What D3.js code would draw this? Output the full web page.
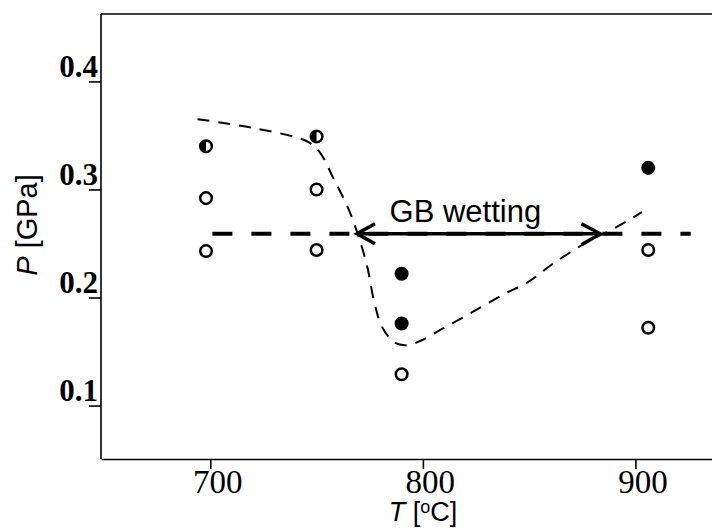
<!DOCTYPE html>
<html>
<head>
    <meta charset="utf-8">
    <title>GB wetting</title>
    <style>
        body { margin: 0; background: #fff; }
        .tick text { font-family: "Liberation Serif", serif; fill: #000; }
    </style>
</head>
<body>
    <svg width="712" height="528"></svg>
    <script src="https://d3js.org/d3.v7.min.js"></script>
    <script>
        // data
        const openT = [698, 698, 750, 750, 790, 906, 906];
        const openP = [0.292, 0.243, 0.300, 0.244, 0.129, 0.244, 0.172];
        const filledT = [790, 790, 906];
        const filledP = [0.222, 0.176, 0.320];
        const halfT = [698, 750];
        const halfP = [0.340, 0.349];
        const curveT = [694, 720, 746, 752, 758, 765, 770, 774, 777, 781, 787, 793, 799, 809, 822, 838, 850, 861, 877, 890, 903];
        const curveP = [0.365, 0.357, 0.344, 0.333, 0.31, 0.282, 0.255, 0.227, 0.197, 0.172, 0.158, 0.156, 0.16, 0.171, 0.185, 0.203, 0.215, 0.231, 0.251, 0.264, 0.279];
        const levelT = [701, 926];
        const levelP = 0.259;
        const arrowT = [769, 883.5];
        const xTicks = [700, 800, 900];
        const yTicks = [0.1, 0.2, 0.3, 0.4];

        const svg = d3.select('svg');
        const width = +svg.attr('width');
        const height = +svg.attr('height');
        const margin = { top: 14, right: 0, bottom: 69, left: 101 };
        const innerWidth = width - margin.left - margin.right;
        const innerHeight = height - margin.top - margin.bottom;

        const xScale = d3.scaleLinear().domain([648.6, 936]).range([0, innerWidth]);
        const yScale = d3.scaleLinear().domain([0.0487, 0.4624]).range([innerHeight + 2, 0]);

        const g = svg.append('g').attr('transform', `translate(${margin.left},${margin.top})`);

        // frame: left and top (bottom comes from the axis)
        g.append('line').attr('x1', 0).attr('x2', 0).attr('y1', 0).attr('y2', innerHeight)
            .attr('stroke', '#000').attr('stroke-width', 1.6);
        g.append('line').attr('x1', 0).attr('x2', innerWidth).attr('y1', 0).attr('y2', 0)
            .attr('stroke', '#000').attr('stroke-width', 1.6);

        const xAxis = g.append('g').attr('transform', `translate(0,${innerHeight})`)
            .call(d3.axisBottom(xScale).tickValues(xTicks).tickFormat(d3.format('d')).tickSize(10).tickSizeOuter(0));
        xAxis.selectAll('text').attr('font-size', 33).attr('dy', 0).attr('y', 34).attr('x', 7);

        const yAxis = g.append('g')
            .call(d3.axisLeft(yScale).tickValues(yTicks).tickFormat(d3.format('.1f')).tickSize(12).tickSizeOuter(0));
        yAxis.select('.domain').remove();
        yAxis.selectAll('text').attr('font-size', 31).attr('font-weight', 'bold')
            .attr('x', -3).attr('dy', '-0.17em');
        svg.selectAll('.domain, .tick line').attr('stroke-width', 1.6);

        // axis titles
        const yt = svg.append('text').attr('transform', 'translate(37,225) rotate(-90)')
            .attr('text-anchor', 'middle').attr('font-family', '"Liberation Sans", Arial, sans-serif')
            .attr('font-size', 29);
        yt.append('tspan').attr('font-style', 'italic').text('P');
        yt.append('tspan').text(' [GPa]');

        const xt = svg.append('text').attr('x', 423).attr('y', 521)
            .attr('text-anchor', 'middle').attr('font-family', '"Liberation Sans", Arial, sans-serif')
            .attr('font-size', 27);
        xt.append('tspan').attr('font-style', 'italic').text('T');
        xt.append('tspan').text(' [');
        xt.append('tspan').attr('font-size', 18).attr('dy', -8).text('o');
        xt.append('tspan').attr('dy', 8).text('C]');

        // horizontal dashed level line
        g.append('line')
            .attr('x1', xScale(levelT[0])).attr('x2', xScale(levelT[1]))
            .attr('y1', yScale(levelP)).attr('y2', yScale(levelP))
            .attr('stroke', '#000').attr('stroke-width', 4).attr('stroke-dasharray', '20,19');

        // dashed guide curve
        const line = d3.line().x(d => xScale(d[0])).y(d => yScale(d[1])).curve(d3.curveCatmullRom);
        g.append('path').datum(curveT.map((t, i) => [t, curveP[i]]))
            .attr('d', line).attr('fill', 'none').attr('stroke', '#000')
            .attr('stroke-width', 2).attr('stroke-dasharray', '12,9');

        // double arrow
        const ax0 = xScale(arrowT[0]), ax1 = xScale(arrowT[1]), ay = yScale(levelP);
        g.append('line').attr('x1', ax0).attr('x2', ax1).attr('y1', ay).attr('y2', ay)
            .attr('stroke', '#000').attr('stroke-width', 3.5);
        g.append('path')
            .attr('d', `M${ax0 + 18},${ay - 10}L${ax0},${ay}L${ax0 + 18},${ay + 10}M${ax1 - 19},${ay - 10}L${ax1},${ay}L${ax1 - 19},${ay + 11}`)
            .attr('fill', 'none').attr('stroke', '#000').attr('stroke-width', 3.5);
        g.append('text').attr('x', xScale(820)).attr('y', ay - 12)
            .attr('text-anchor', 'middle').attr('font-family', '"Liberation Sans", Arial, sans-serif')
            .attr('font-size', 31).text('GB wetting');

        // markers
        const r = 5.8;
        g.selectAll('circle.open').data(openT.map((t, i) => [t, openP[i]])).enter()
            .append('circle').attr('class', 'open')
            .attr('cx', d => xScale(d[0])).attr('cy', d => yScale(d[1])).attr('r', r)
            .attr('fill', '#fff').attr('stroke', '#000').attr('stroke-width', 2.5);
        g.selectAll('circle.filled').data(filledT.map((t, i) => [t, filledP[i]])).enter()
            .append('circle').attr('class', 'filled')
            .attr('cx', d => xScale(d[0])).attr('cy', d => yScale(d[1])).attr('r', r)
            .attr('fill', '#000').attr('stroke', '#000').attr('stroke-width', 2.5);
        const half = g.selectAll('g.half').data(halfT.map((t, i) => [t, halfP[i]])).enter()
            .append('g').attr('class', 'half')
            .attr('transform', d => `translate(${xScale(d[0])},${yScale(d[1])})`);
        half.append('circle').attr('r', r).attr('fill', '#fff').attr('stroke', '#000').attr('stroke-width', 2.5);
        half.append('path').attr('d', `M0,${-r}A${r},${r} 0 0 0 0,${r}Z`).attr('fill', '#000');
    </script>
</body>
</html>
